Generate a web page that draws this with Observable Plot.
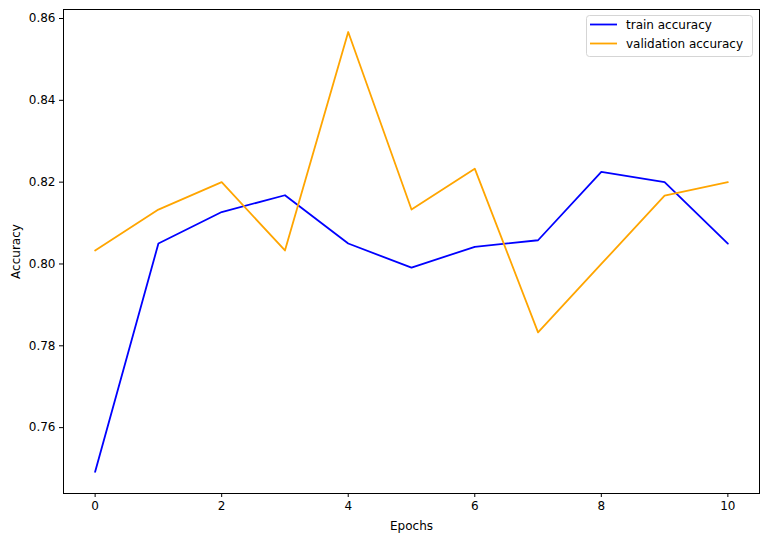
<!DOCTYPE html>
<html>
<head>
<meta charset="utf-8">
<script src="https://cdn.jsdelivr.net/npm/d3@7"></script>
<script src="https://cdn.jsdelivr.net/npm/@observablehq/plot@0.6"></script>
<style>
  html, body { margin: 0; padding: 0; background: #fff; }
  #chart svg { display: block; }
</style>
</head>
<body>
<div id="chart"></div>
<script>
const epochs = [0, 1, 2, 3, 4, 5, 6, 7, 8, 9, 10];
const trainAccuracy = [0.7492, 0.8050, 0.8127, 0.8168, 0.8050, 0.7991, 0.8042, 0.8058, 0.8225, 0.8200, 0.8050];
const valAccuracy = [0.8033, 0.8133, 0.8200, 0.8033, 0.8567, 0.8133, 0.8233, 0.7833, 0.8000, 0.8167, 0.8200];
const seriesNames = ["train accuracy", "validation accuracy"];
const seriesColors = ["#0000ff", "#ffa500"];
const xTicks = [0, 2, 4, 6, 8, 10];
const yTicks = [0.76, 0.78, 0.80, 0.82, 0.84, 0.86];

const data = [];
epochs.forEach((e, i) => {
  data.push({epoch: e, acc: trainAccuracy[i], series: seriesNames[0]});
  data.push({epoch: e, acc: valAccuracy[i], series: seriesNames[1]});
});

const W = 768, H = 541;
const plot = Plot.plot({
  width: W,
  height: H,
  marginLeft: 63,
  marginRight: 9,
  marginTop: 9,
  marginBottom: 48,
  style: {fontFamily: "DejaVu Sans", fontSize: "12px", color: "#000", background: "#fff"},
  x: {domain: [-0.5, 10.5], ticks: xTicks, tickFormat: d3.format("d"), label: "Epochs", labelAnchor: "center", labelArrow: "none", tickSize: 4, tickPadding: 4, labelOffset: 36},
  y: {domain: [0.7439, 0.8622], ticks: yTicks, tickFormat: d3.format(".2f"), label: "Accuracy", labelAnchor: "center", labelArrow: "none", tickSize: 4, tickPadding: 4, labelOffset: 52},
  color: {domain: seriesNames, range: seriesColors},
  marks: [
    Plot.line(data, {x: "epoch", y: "acc", stroke: "series", z: "series", strokeWidth: 1.8}),
    Plot.frame({stroke: "#000", strokeWidth: 1})
  ]
});
document.getElementById("chart").appendChild(plot);

// legend inside the axes (upper right)
const svg = d3.select(plot);
const lg = svg.append("g").attr("font-family", "DejaVu Sans").attr("font-size", 12).attr("text-anchor", "start");
lg.append("rect").attr("x", 586.5).attr("y", 15.5).attr("width", 166).attr("height", 41)
  .attr("rx", 3).attr("fill", "#fff").attr("fill-opacity", 0.8).attr("stroke", "#d5d5d5");
seriesNames.forEach((name, i) => {
  const y = 24.5 + i * 19;
  lg.append("line").attr("x1", 590).attr("x2", 617).attr("y1", y).attr("y2", y)
    .attr("stroke", seriesColors[i]).attr("stroke-width", 1.8);
  lg.append("text").attr("x", 626).attr("y", y).attr("dy", "0.35em").attr("text-anchor", "start").attr("fill", "#000").text(name);
});
</script>
</body>
</html>
